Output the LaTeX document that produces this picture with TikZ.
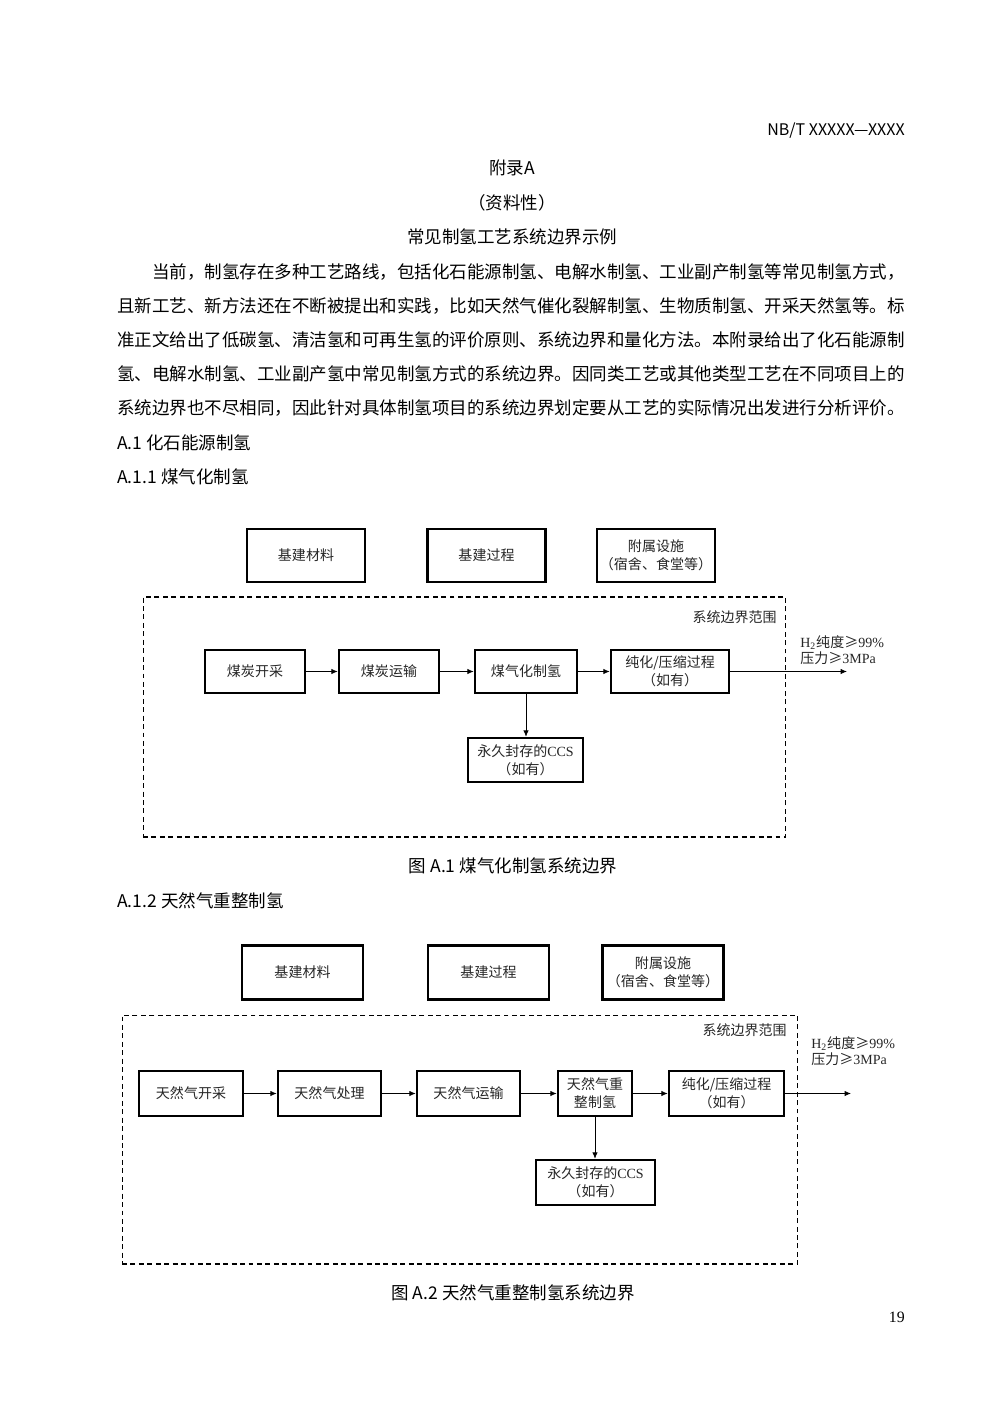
\documentclass[tikz,border=0pt]{standalone}
\usepackage{fontspec}
\setmainfont{Noto Sans CJK SC}
\newfontfamily\tnr{Liberation Serif}
\usetikzlibrary{arrows.meta, positioning}

% one pixel of the page
\newcommand{\pu}{0.5691pt}
\newcommand{\bodysize}{\fontsize{9.96pt}{12pt}\selectfont}
\newcommand{\boxsize}{\fontsize{7.97pt}{10.2pt}\selectfont}
\newcommand{\specsize}{\fontsize{7.97pt}{9.1pt}\selectfont}

\begin{document}
\begin{tikzpicture}[x=0.02cm, y=-0.02cm,
  every node/.style={inner sep=0pt},
  wh/.style 2 args={minimum width=#1*\pu, minimum height=#2*\pu},
  para/.style={anchor=west, font=\bodysize},
  head/.style={font=\bodysize},
  blk/.style={draw, line width=1.4pt, align=center, font=\boxsize, text=black!85},
  bnd/.style={draw, dash pattern=on 2.8pt off 2pt, line width=0.6pt},
  flow/.style={-{Latex[length=3.6pt,width=3pt]}, line width=0.45pt},
  note/.style={font=\boxsize, text=black!85},
  spec/.style={anchor=west, align=left, font=\specsize, text=black!85}]

  % page
  \fill[white] (0,0) rectangle (1000,1414);
  \useasboundingbox (0,0) rectangle (1000,1414);

  % Header and titles
  \node[anchor=east, font=\fontsize{9.1pt}{11pt}\selectfont] (std) at (905,131) {NB/T XXXXX—XXXX};
  \node[head] (app) at (512,168) {附录A};
  \node[head] (kind) at (512,203) {（资料性）};
  \node[head] (title) at (512,237) {常见制氢工艺系统边界示例};

  % Paragraph
  \node[para] (line1) at (152,272) {当前，制氢存在多种工艺路线，包括化石能源制氢、电解水制氢、工业副产制氢等常见制氢方式，};
  \foreach \i/\y/\t in
    {2/306/且新工艺、新方法还在不断被提出和实践，比如天然气催化裂解制氢、生物质制氢、开采天然氢等。标,
     3/340/准正文给出了低碳氢、清洁氢和可再生氢的评价原则、系统边界和量化方法。本附录给出了化石能源制,
     4/374/氢、电解水制氢、工业副产氢中常见制氢方式的系统边界。因同类工艺或其他类型工艺在不同项目上的,
     5/408/系统边界也不尽相同，因此针对具体制氢项目的系统边界划定要从工艺的实际情况出发进行分析评价。} {
    \node[para] (line\i) at (117,\y) {\t};
  }
  \node[para] (secA1) at (117,443) {A.1 化石能源制氢};
  \node[para] (secA11) at (117,477) {A.1.1 煤气化制氢};

  % Figure A.1: coal gasification
  \foreach \n/\x/\t in
    {mat1/306/基建材料, proc1/486.5/基建过程, aux1/656/{附属设施\\（宿舍、食堂等）}} {
    \node[blk, wh={118}{53}] (\n) at (\x,555.5) {\t};
  }
  \node[bnd, wh={643}{240}] (bnd1) at (464.5,717) {};
  \node[note, anchor=east] (lab1) at (777,617) {系统边界范围};

  \foreach \n/\x/\w/\t in
    {mine1/255/100/煤炭开采, trans1/389/100/煤炭运输,
     gas1/526/102/煤气化制氢, pur1/670/118/{纯化/压缩过程\\（如有）}} {
    \node[blk, wh={\w}{43}] (\n) at (\x,671.5) {\t};
  }
  \node[blk, wh={115}{44}] (ccs1) at (525.5,760) {永久封存的{\tnr CCS}\\（如有）};

  \foreach \a/\b in {mine1/trans1, trans1/gas1, gas1/pur1}
    \draw[flow] (\a) -- (\b);
  \draw[flow] (gas1.south) -- (gas1.south |- ccs1.north);
  \coordinate (out1) at (847,671.5);
  \draw[flow] (pur1) -- (out1);
  \node[spec] (h2a) at (800,650) {{\tnr H}\textsubscript{\tnr 2}纯度≥{\tnr 99\%}\\压力≥{\tnr 3MPa}};

  \node[head] (cap1) at (513,866) {图 A.1 煤气化制氢系统边界};
  \node[para] (secA12) at (117,901) {A.1.2 天然气重整制氢};

  % Figure A.2: natural gas reforming
  \foreach \n/\x/\t in
    {mat2/302.5/基建材料, proc2/488.5/基建过程, aux2/663/{附属设施\\（宿舍、食堂等）}} {
    \node[blk, wh={121}{54}] (\n) at (\x,972.5) {\t};
  }
  \node[bnd, wh={676}{249}] (bnd2) at (460,1139.5) {};
  \node[note, anchor=east] (lab2) at (787,1030) {系统边界范围};

  \foreach \n/\x/\w/\t in
    {mine2/191/104/天然气开采, treat2/329.5/103/天然气处理, tr2/468.5/103/天然气运输,
     ref2/595/74/{天然气重\\整制氢}, pur2/726.5/115/{纯化/压缩过程\\（如有）}} {
    \node[blk, wh={\w}{45}] (\n) at (\x,1093.5) {\t};
  }
  \node[blk, wh={119}{45}] (ccs2) at (595.5,1182.5) {永久封存的{\tnr CCS}\\（如有）};

  \foreach \a/\b in {mine2/treat2, treat2/tr2, tr2/ref2, ref2/pur2}
    \draw[flow] (\a) -- (\b);
  \draw[flow] (ref2.south) -- (ref2.south |- ccs2.north);
  \coordinate (out2) at (851,1093.5);
  \draw[flow] (pur2) -- (out2);
  \node[spec] (h2b) at (811,1051) {{\tnr H}\textsubscript{\tnr 2}纯度≥{\tnr 99\%}\\压力≥{\tnr 3MPa}};

  \node[head] (cap2) at (513,1293) {图 A.2 天然气重整制氢系统边界};

  % page number
  \node[anchor=east, font=\tnr\fontsize{9pt}{11pt}\selectfont] (pgno) at (905,1317) {19};

\end{tikzpicture}
\end{document}
